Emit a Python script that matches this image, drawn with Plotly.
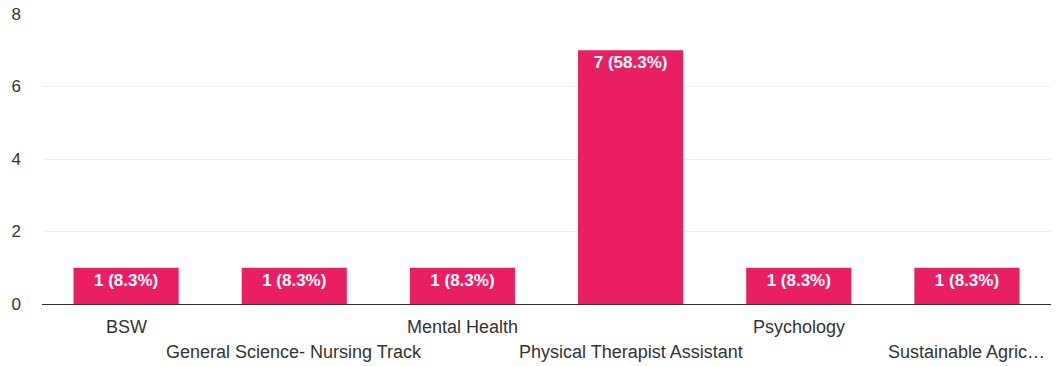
import plotly.graph_objects as go

categories = ["BSW", "General Science- Nursing Track", "Mental Health",
              "Physical Therapist Assistant", "Psychology", "Sustainable Agric…"]
counts = [1, 1, 1, 7, 1, 1]
total = sum(counts)
bar_text = [f"<b>{c} ({c / total * 100:.1f}%)</b>" for c in counts]
y_ticks = [0, 2, 4, 6, 8]

FONT = "Liberation Sans, Arial, sans-serif"
PINK = "#e91e63"

fig = go.Figure(go.Bar(
    x=categories, y=counts, text=bar_text,
    textposition="inside", insidetextanchor="end",
    textfont=dict(family=FONT, size=17, color="white"),
    marker=dict(color=PINK, line=dict(width=0)),
    cliponaxis=False,
))

for i, cat in enumerate(categories):
    fig.add_annotation(
        x=cat, y=0, xref="x", yref="paper", yanchor="middle",
        yshift=-23 if i % 2 == 0 else -48,
        text=cat, showarrow=False,
        font=dict(family=FONT, size=18, color="#333333"),
    )

fig.update_layout(
    width=1056, height=366,
    margin=dict(l=42, r=5, t=14, b=62),
    paper_bgcolor="white", plot_bgcolor="white",
    bargap=0.375, showlegend=False,
    uniformtext=dict(mode=False),
)
fig.update_xaxes(showticklabels=False, showgrid=False, zeroline=False,
                 showline=False, ticks="")
fig.update_yaxes(range=[0, 8], tickvals=y_ticks, showgrid=True,
                 gridcolor="#eeeeee", gridwidth=1,
                 zeroline=True, zerolinecolor="#333333", zerolinewidth=1,
                 ticklabelstandoff=20,
                 tickfont=dict(family=FONT, size=17, color="#333333"))

fig.write_html("out.html")
